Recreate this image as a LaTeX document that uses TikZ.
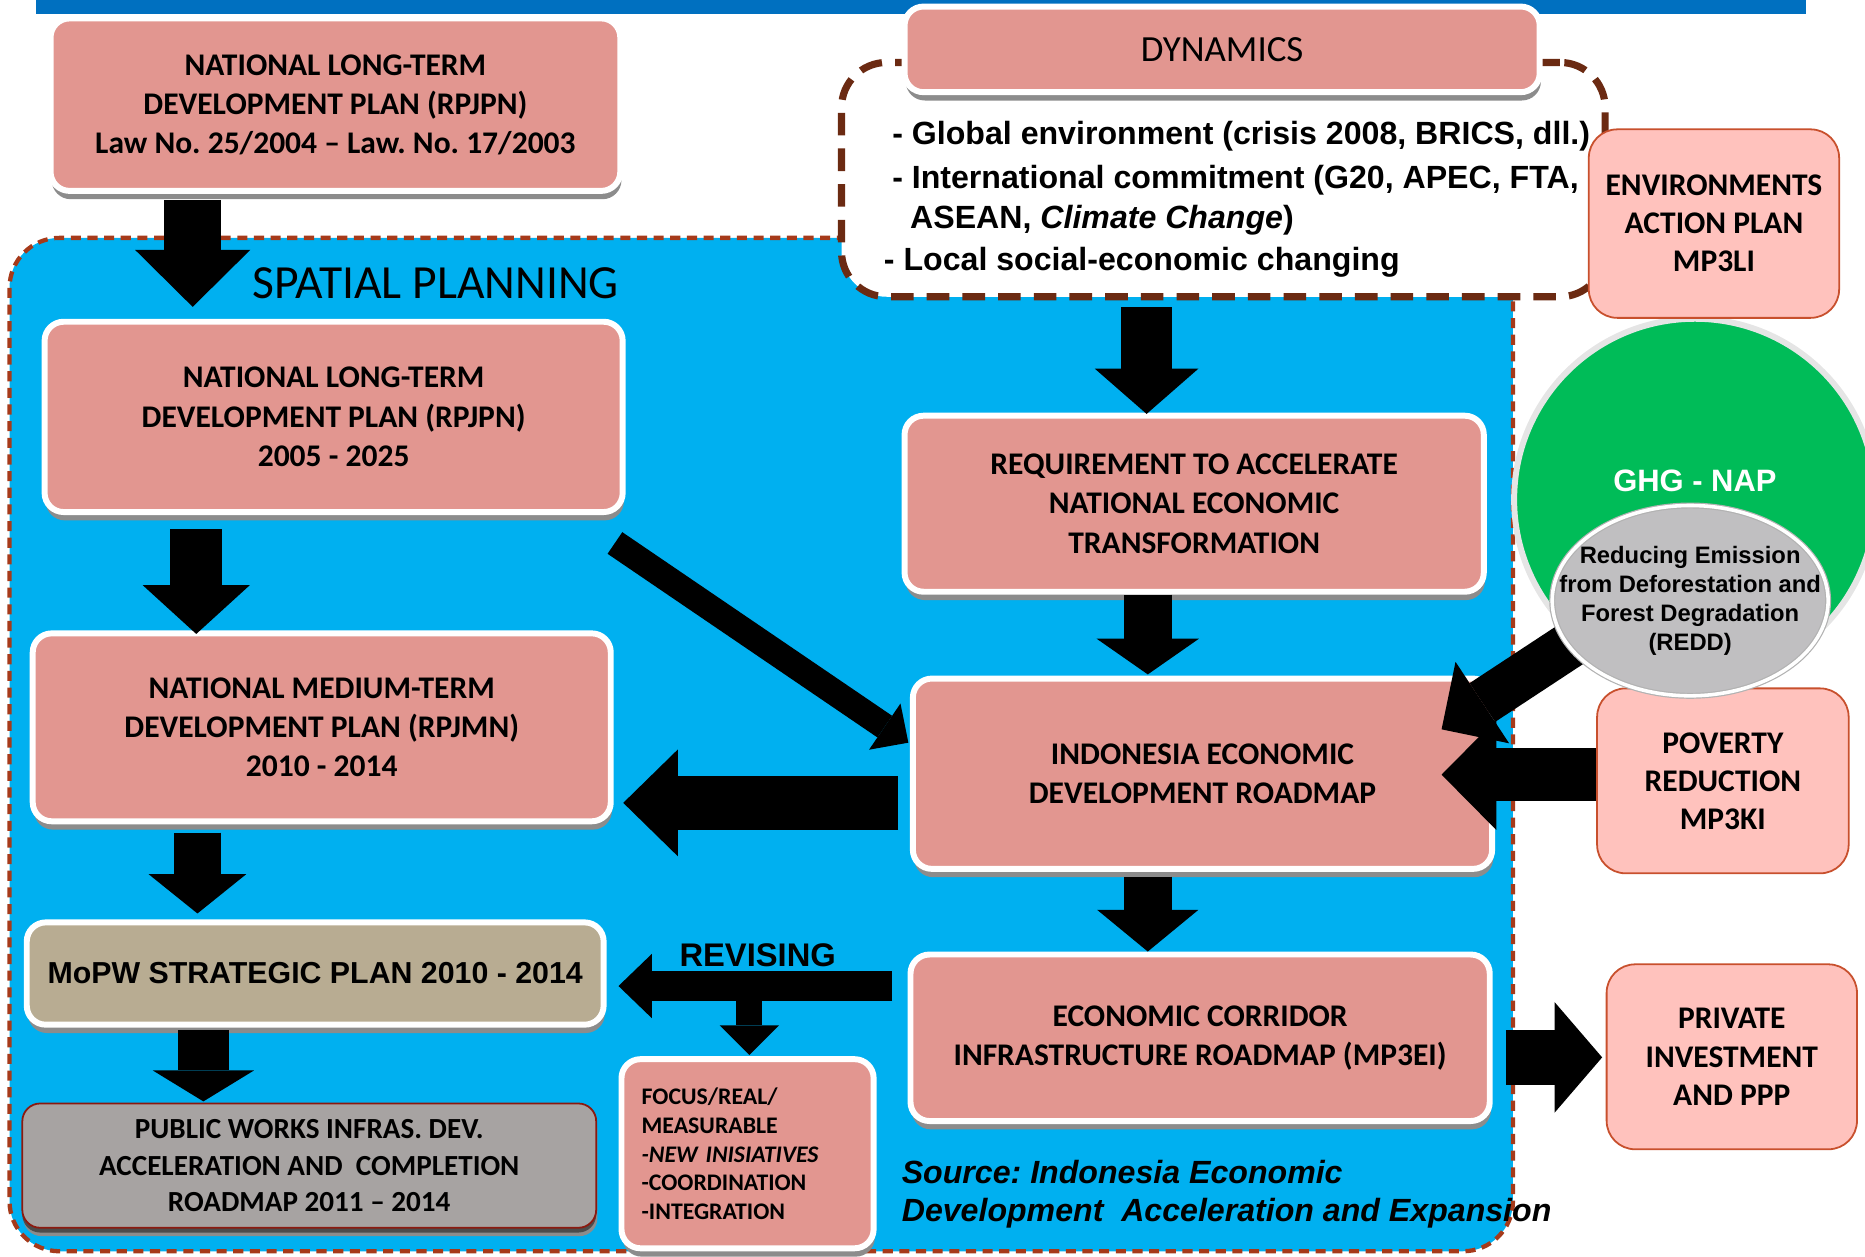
\documentclass[tikz,border=0pt]{standalone}
\usepackage{fontspec}
\setmainfont{Carlito}
\newfontfamily\arialfont{Liberation Sans}
\usetikzlibrary{arrows.meta,calc,shapes.geometric,shadows}
\frenchspacing
\definecolor{TopBar}{HTML}{0070C0}
\definecolor{SpatialBlue}{HTML}{00B0F0}
\definecolor{SpatialDash}{HTML}{A63A1A}
\definecolor{DynDash}{HTML}{6B2A12}
\definecolor{BoxPink}{HTML}{E29690}
\definecolor{BoxTan}{HTML}{B8AC92}
\definecolor{BoxGrey}{HTML}{A7A3A2}
\definecolor{BoxEdge}{HTML}{8B1A10}
\definecolor{SideFill}{HTML}{FFC2BD}
\definecolor{SideDraw}{HTML}{C8502D}
\definecolor{GhgGreen}{HTML}{00BC58}
\definecolor{ReddGrey}{HTML}{C0BFC1}
\tikzset{
  rm box/.style={
    draw=white,
    fill=BoxPink,
    line width=5pt,
    rounded corners=16pt,
    align=center,
    inner sep=2pt,
    font=\fontsize{26.5}{33}\selectfont\bfseries,
    drop shadow={shadow xshift=1pt,shadow yshift=-7pt,fill=black!45,opacity=1}
  },
  rm side/.style={
    draw=SideDraw,
    fill=SideFill,
    line width=1.5pt,
    rounded corners=24pt,
    align=center,
    inner sep=2pt,
    font=\fontsize{26.5}{32}\selectfont\bfseries
  },
  rm arrow/.style n args={3}{
    draw=black,
    line width=#1,
    -{Triangle[width=#2,length=#3,line width=0pt]}
  },
  dyn text/.style={
    anchor=base west,
    inner sep=0pt,
    font=\arialfont\bfseries\fontsize{27}{32}\selectfont
  }
}

\begin{document}
\begin{tikzpicture}[x=1pt, y=-1pt]
        \useasboundingbox (0,0) rectangle (1568,1056);
        \clip (0,0) rectangle (1568,1056);
        \fill[TopBar] (30,0) rectangle (1518,12);

        \node[draw=SpatialDash,fill=SpatialBlue,line width=3.6pt,dash pattern=on 8.5pt off 5.5pt,rounded corners=42pt,minimum width=1264pt,minimum height=852pt] (spatial) at (640,626) {};
        \node[draw=DynDash,fill=white,line width=6pt,dash pattern=on 19pt off 11pt,rounded corners=38pt,minimum width=642pt,minimum height=197pt] (dynbox) at (1028.5,151) {};
        \node[rm box,minimum width=534pt,minimum height=72pt,font=\fontsize{31}{36}\selectfont] (dyn) at (1027.5,41.5) {DYNAMICS};

        \node[circle,fill=GhgGreen,draw=white!80!gray,line width=5pt,inner sep=0pt,minimum size=304pt] (ghg) at (1425,420) {};
        \node[rm side,minimum width=210.5pt,minimum height=158.5pt] (env) at (1441,188) {ENVIRONMENTS\\ ACTION PLAN\\ MP3LI};

        \node[rm box,minimum width=479pt,minimum height=145pt] (lawplan) at (282,88) {NATIONAL LONG-TERM\\ DEVELOPMENT PLAN (RPJPN)\\ Law No. 25/2004 -- Law. No. 17/2003};
        \node[rm box,minimum width=486pt,minimum height=160pt] (rpjpn) at (280.5,350.5) {NATIONAL LONG-TERM\\ DEVELOPMENT PLAN (RPJPN)\\ 2005 - 2025};
        \node[rm box,minimum width=486pt,minimum height=158pt] (rpjmn) at (270.5,611.5) {NATIONAL MEDIUM-TERM\\ DEVELOPMENT PLAN (RPJMN)\\ 2010 - 2014};
        \node[rm box,fill=BoxTan,minimum width=485pt,minimum height=86pt,font=\arialfont\bfseries\fontsize{25.5}{30}\selectfont] (mopw) at (265,818.5) {MoPW STRATEGIC PLAN 2010 - 2014};
        \node[rm box,draw=BoxEdge,fill=BoxGrey,line width=1.5pt,rounded corners=15pt,minimum width=482.5pt,minimum height=104.5pt,font=\fontsize{24.5}{30.5}\selectfont\bfseries,drop shadow={shadow xshift=0pt,shadow yshift=-4pt,fill=black!70,opacity=1}] (pwroad) at (260,980) {PUBLIC WORKS INFRAS. DEV.\\ ACCELERATION AND\ \ COMPLETION\\ ROADMAP 2011 -- 2014};
        \node[rm box,minimum width=487pt,minimum height=148pt] (req) at (1004,423.5) {REQUIREMENT TO ACCELERATE\\ NATIONAL ECONOMIC\\ TRANSFORMATION};
        \node[rm box,minimum width=487pt,minimum height=160pt] (ied) at (1011,650.5) {INDONESIA ECONOMIC\\ DEVELOPMENT ROADMAP};
        \node[rm box,minimum width=487pt,minimum height=140pt] (eci) at (1009,872.5) {ECONOMIC CORRIDOR\\ INFRASTRUCTURE ROADMAP (MP3EI)};
        \node[rm box,minimum width=212pt,minimum height=159pt,text width=178pt,align=left,font=\fontsize{20}{24}\selectfont\bfseries] (focus) at (628.5,970) {FOCUS/REAL/\\ MEASURABLE\\ \textit{-NEW INISIATIVES}\\ -COORDINATION\\ -INTEGRATION};
        \node[rm side,minimum width=211.5pt,minimum height=155.5pt] (pov) at (1448.5,656.5) {POVERTY\\ REDUCTION\\ MP3KI};
        \node[rm side,minimum width=210.5pt,minimum height=155.5pt] (ppp) at (1456,888.5) {PRIVATE\\ INVESTMENT\\ AND PPP};

        \coordinate (revfork) at (630,838);
        \draw[rm arrow={48pt}{97pt}{48pt}] ($(lawplan.south)+(-120,5)$) -- ($(rpjpn.north)+(-118.5,-10)$);
        \draw[rm arrow={44pt}{90pt}{41pt}] ($(rpjpn.south)+(-115.5,12)$) -- ($(rpjmn.north)+(-105.5,3)$);
        \draw[rm arrow={40pt}{82pt}{33pt}] ($(rpjmn.south)+(-104.5,7)$) -- ($(mopw.north)+(-99,-5)$);
        \draw[rm arrow={43pt}{85pt}{26pt}] ($(mopw.south)+(-94,2)$) -- ($(pwroad.north)+(-89,-1)$);
        \draw[rm arrow={43pt}{87pt}{38pt}] ($(dynbox.south)+(-64.5,6)$) -- ($(req.north)+(-40,1)$);
        \draw[rm arrow={40pt}{86pt}{30pt}] ($(req.south)+(-39,0)$) -- ($(ied.north)+(-46,-1)$);
        \draw[rm arrow={40pt}{85pt}{35pt}] ($(ied.south)+(-46,4)$) -- ($(eci.north)+(-44,0)$);
        \draw[rm arrow={22pt}{47pt}{24pt}] ($(rpjpn.south east)+(-9,23.5)$) -- ($(ied.west)+(-1.3,-26.1)$);
        \draw[rm arrow={45pt}{90pt}{46pt}] ($(ied.west)+(-10,24.5)$) -- ($(rpjmn.east)+(8,63.5)$);
        \draw[rm arrow={26pt}{54pt}{28pt}] ($(eci.west)+(-13,-43.5)$) -- ($(mopw.east)+(10,10.5)$);
        \draw[rm arrow={22pt}{50pt}{25pt}] (revfork) -- ($(focus.north)+(1.5,-1)$);
        \draw[rm arrow={45pt}{93pt}{46pt}] ($(pov.west)+(0,-5.2)$) -- ($(ied.east)+(-45,0.8)$);
        \draw[rm arrow={46pt}{93pt}{40pt}] ($(eci.east)+(11,16.5)$) -- ($(ppp.west)+(-3,0.5)$);
        \draw[rm arrow={39pt}{82pt}{41pt}] ($(1421,505)+(-99.5,36.2)$) -- ($(ied.north east)+(-45,45.2)$);

        \node[ellipse,fill=ReddGrey,draw=gray!60,line width=1pt,double=white,double distance=3pt,inner sep=0pt,minimum width=232pt,minimum height=160pt] (redd) at (1421,505) {};
        \node[align=center,inner sep=0pt,font=\arialfont\bfseries\fontsize{20}{24.3}\selectfont] (reddlbl) at (redd.center) {Reducing Emission\\ from Deforestation and\\ Forest Degradation\\ (REDD)};
        \node[text=white,inner sep=0pt,font=\arialfont\bfseries\fontsize{26}{30}\selectfont] (ghglbl) at ($(ghg.center)+(0,-16)$) {GHG - NAP};

        \node[anchor=base west,inner sep=0pt,font=\fontsize{40}{44}\selectfont] (spatlbl) at (212,250.6) {SPATIAL PLANNING};
        \node[dyn text] (dynA) at (750,121.7) {- Global environment (crisis 2008, BRICS, dll.)};
        \node[dyn text] (dynB) at (750,158.7) {- International commitment (G20, APEC, FTA,};
        \node[dyn text] (dynC) at (765,191.7) {ASEAN, \textit{Climate Change})};
        \node[dyn text] (dynD) at (743,227.7) {- Local social-economic changing};
        \node[inner sep=0pt,font=\arialfont\bfseries\fontsize{27.5}{32}\selectfont] (revlbl) at (637,803) {REVISING};
        \node[dyn text,font=\arialfont\bfseries\itshape\fontsize{27}{32}\selectfont] (srcA) at (758,994.7) {Source: Indonesia Economic};
        \node[dyn text,font=\arialfont\bfseries\itshape\fontsize{27}{32}\selectfont] (srcB) at (758,1026.7) {Development\ \ Acceleration and Expansion};
      \end{tikzpicture}
\end{document}
